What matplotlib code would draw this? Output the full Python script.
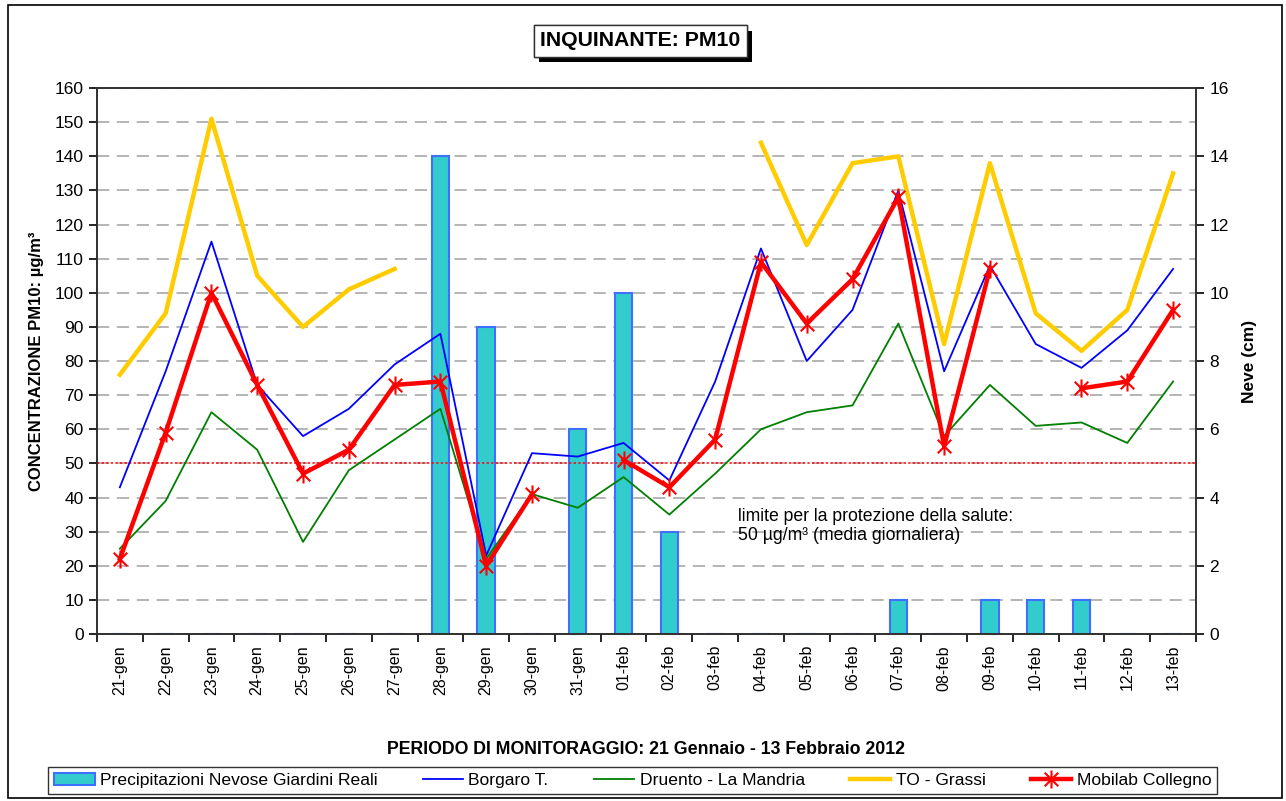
import numpy as np
import matplotlib.pyplot as plt
from matplotlib.path import Path
from matplotlib.patches import Rectangle
import matplotlib.patheffects as pe

plt.rcParams['font.family'] = ['Liberation Sans', 'DejaVu Sans']

# dati
giorni = ['21-gen', '22-gen', '23-gen', '24-gen', '25-gen', '26-gen', '27-gen',
          '28-gen', '29-gen', '30-gen', '31-gen', '01-feb', '02-feb', '03-feb',
          '04-feb', '05-feb', '06-feb', '07-feb', '08-feb', '09-feb', '10-feb',
          '11-feb', '12-feb', '13-feb']
neve = [0, 0, 0, 0, 0, 0, 0, 14, 9, 0, 6, 10, 3, 0, 0, 0, 0, 1, 0, 1, 1, 1, 0, 0]
borgaro = [43, 77, 115, 73, 58, 66, 79, 88, 23, 53, 52, 56, 45, 74, 113, 80, 95,
           130, 77, 108, 85, 78, 89, 107]
druento = [25, 39, 65, 54, 27, 48, 57, 66, 22, 41, 37, 46, 35, 47, 60, 65, 67,
           91, 58, 73, 61, 62, 56, 74]
to_grassi = [76, 94, 151, 105, 90, 101, 107, None, None, None, None, None, None,
             None, 144, 114, 138, 140, 85, 138, 94, 83, 95, 135]
mobilab = [22, 59, 100, 73, 47, 54, 73, 74, 20, 41, None, 51, 43, 57, 109, 91,
           104, 128, 55, 107, None, 72, 74, 95]
limite = 50


def arr(v):
    return np.array([np.nan if x is None else x for x in v], dtype=float)


x = np.arange(len(giorni))

fig = plt.figure(figsize=(12.86, 8.01), dpi=100)
ax = fig.add_axes([0.0754, 0.2085, 0.8546, 0.6815])
ax2 = ax.twinx()
ax.set_zorder(ax2.get_zorder() + 1)
ax.patch.set_visible(False)

# barre neve (asse destro)
ax2.bar(x, neve, width=0.38, color='#33CCCC', edgecolor='#3F6FFF', linewidth=1.5,
        label='Precipitazioni Nevose Giardini Reali', zorder=2)
ax2.set_ylim(0, 16)
ax2.set_yticks(range(0, 17, 2))
ax2.set_yticks(range(1, 16, 2), minor=True)
ax2.tick_params(axis='y', which='major', labelsize=12.5, direction='out', length=6, width=1.2)
ax2.tick_params(axis='y', which='minor', length=0)
ax2.grid(axis='y', which='both', linestyle=(0, (8, 5)), color='#A0A0A0', linewidth=1.1, zorder=0)
ax2.set_axisbelow(True)
ax2.set_ylabel('Neve (cm)', fontsize=12.5, fontweight='bold', labelpad=10)

# linee concentrazioni
asterisco = Path([(0, -1), (0, 1), (-0.75, -0.75), (0.75, 0.75), (-0.75, 0.75), (0.75, -0.75)],
                 [Path.MOVETO, Path.LINETO, Path.MOVETO, Path.LINETO, Path.MOVETO, Path.LINETO])
ax.axhline(limite, color='#FF0000', linestyle=(0, (1.5, 1.5)), linewidth=1.1, zorder=1)
ax.plot(x, arr(borgaro), color='#0000FF', linewidth=1.3, label='Borgaro T.', zorder=3)
ax.plot(x, arr(druento), color='#007F00', linewidth=1.3, label='Druento - La Mandria', zorder=3)
ax.plot(x, arr(to_grassi), color='#FFCC00', linewidth=3.2, label='TO - Grassi', zorder=3)
ax.plot(x, arr(mobilab), color='#FF0000', linewidth=3.2, marker=asterisco, markersize=13,
        markeredgewidth=1.5, markeredgecolor='#FF0000', label='Mobilab Collegno', zorder=4)

ax.set_ylim(0, 160)
ax.set_yticks(range(0, 161, 10))
ax.set_xlim(-0.5, len(giorni) - 0.5)
ax.set_xticks(x)
ax.set_xticklabels(giorni, rotation=90, fontsize=11.5)
ax.set_xticks(np.arange(-0.5, len(giorni), 1), minor=True)
ax.tick_params(axis='x', which='major', length=0, pad=8)
ax.tick_params(axis='x', which='minor', length=6, width=1.2, direction='out')
ax.tick_params(axis='y', labelsize=12.5, direction='out', length=6, width=1.2)
ax.set_ylabel('CONCENTRAZIONE PM10: µg/m³', fontsize=12, fontweight='bold', labelpad=8)
ax.set_xlabel('PERIODO DI MONITORAGGIO: 21 Gennaio - 13 Febbraio 2012', fontsize=12.8,
              fontweight='bold', labelpad=33)
for a in (ax, ax2):
    for s in a.spines.values():
        s.set_linewidth(1.2)
        s.set_color('#303030')

ax.text(13.5, 37, 'limite per la protezione della salute:\n50 µg/m³ (media giornaliera)',
        fontsize=12.7, ha='left', va='top', linespacing=1.15)

# titolo
t = fig.text(0.498, 0.949, 'INQUINANTE: PM10', fontsize=15.3, fontweight='bold',
             ha='center', va='center',
             bbox=dict(boxstyle='square,pad=0.3', facecolor='white', edgecolor='#303030', linewidth=1))
t.get_bbox_patch().set_path_effects([pe.withSimplePatchShadow(offset=(4, -4), shadow_rgbFace='black', alpha=1.0),
                                     pe.Normal()])

h1, l1 = ax2.get_legend_handles_labels()
h2, l2 = ax.get_legend_handles_labels()
leg = fig.legend(h1 + h2, l1 + l2, loc='center', bbox_to_anchor=(0.492, 0.0255), ncol=5,
                 fontsize=12.6, frameon=True, fancybox=False, edgecolor='black',
                 handlelength=2.3, columnspacing=2.6, handletextpad=0.3, borderpad=0.35)
leg.get_frame().set_linewidth(1.0)

# cornice esterna
fig.patches.append(Rectangle((0.006, 0.004), 0.991, 0.99, transform=fig.transFigure,
                             fill=False, edgecolor='black', linewidth=1.2))

fig.savefig('out.png', dpi=100)
